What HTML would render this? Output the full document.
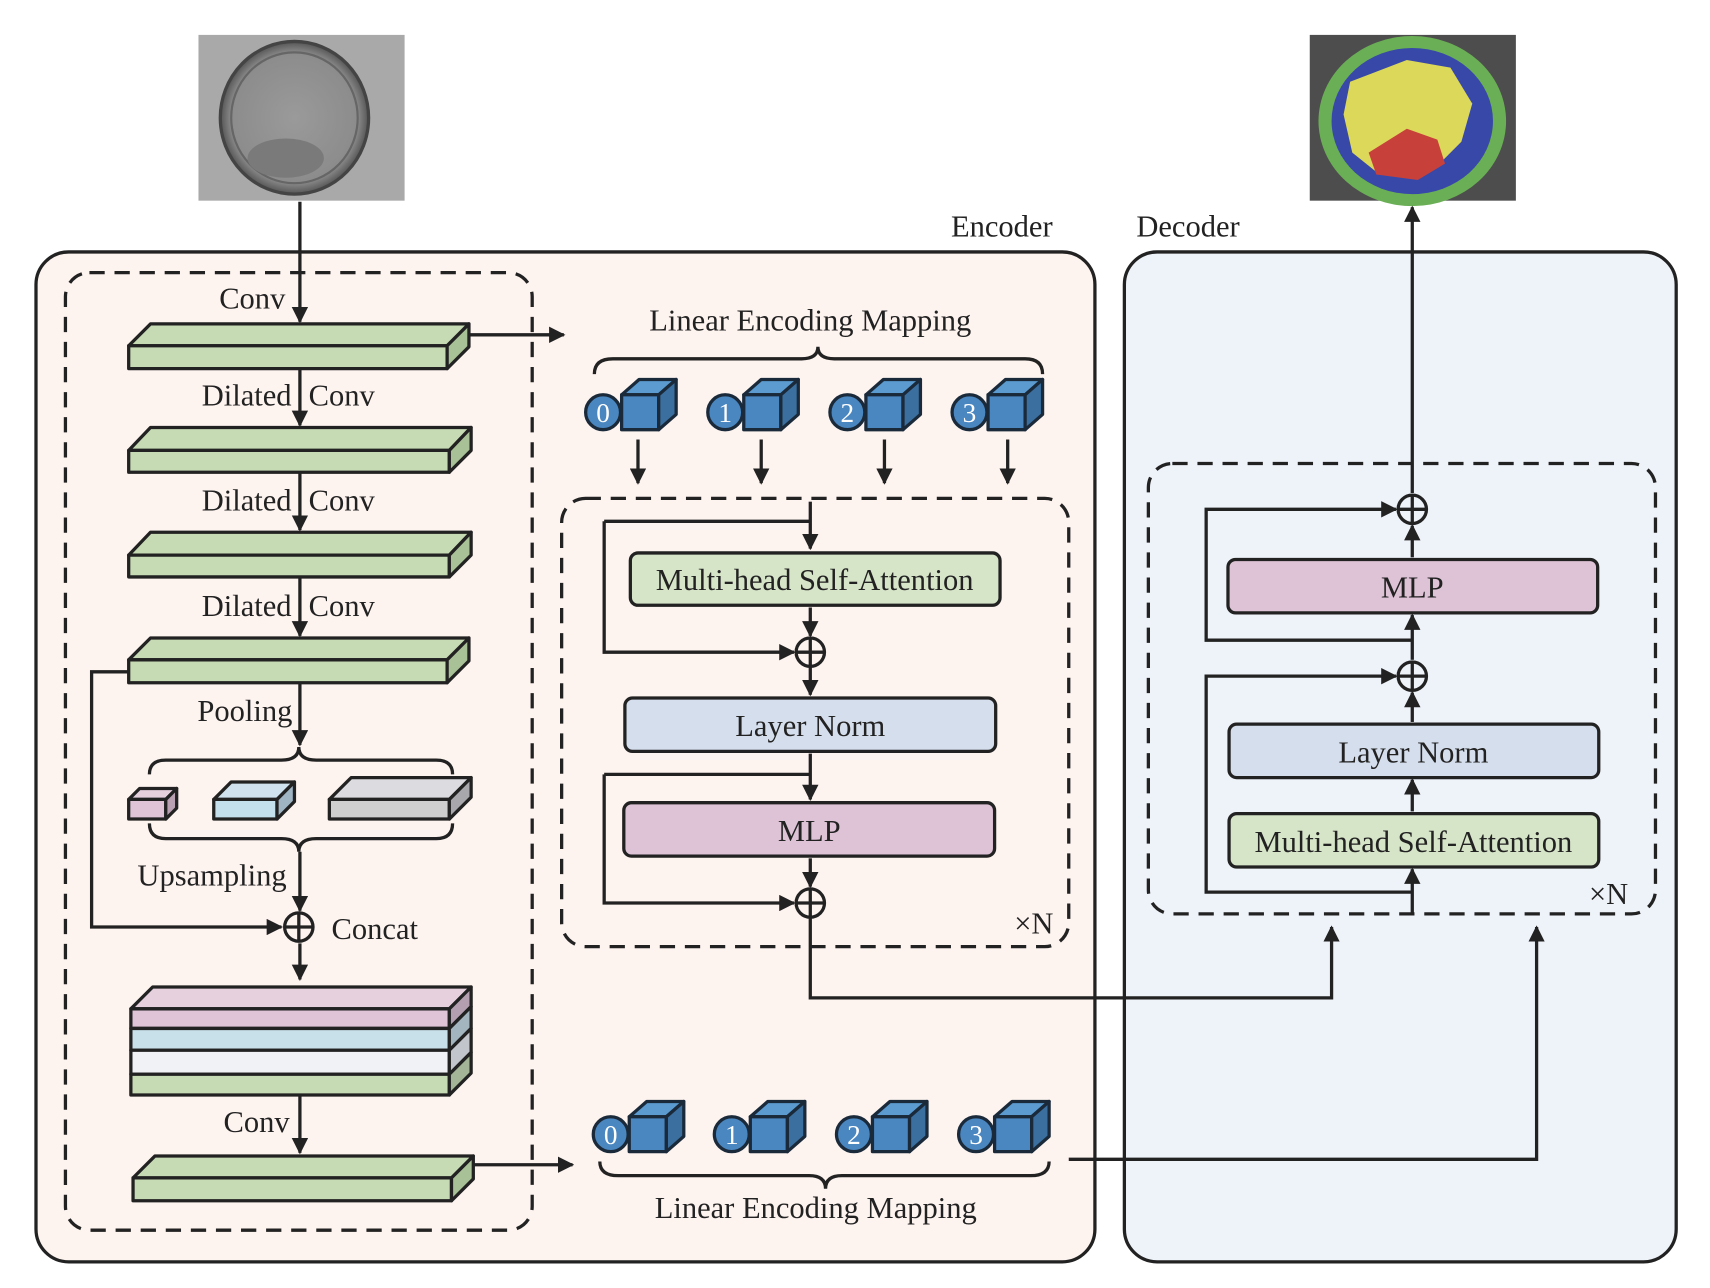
<!DOCTYPE html>
<html><head><meta charset="utf-8"><style>
html,body{margin:0;padding:0;background:#fff;width:1710px;height:1288px;overflow:hidden}
svg{display:block}
text{font-family:"Liberation Serif",serif;fill:#222}
</style></head><body>
<svg width="1710" height="1288" viewBox="0 0 1568 1181" preserveAspectRatio="none" xmlns="http://www.w3.org/2000/svg">
<defs>
<marker id="ah" viewBox="0 0 10 10" refX="9" refY="5" markerWidth="5" markerHeight="5" orient="auto-start-reverse"><path d="M0,0 L10,5 L0,10 z" fill="#222"/></marker>
<radialGradient id="cell" cx="50%" cy="50%" r="50%"><stop offset="0" stop-color="#9a9a9a"/><stop offset="0.85" stop-color="#8c8c8c"/><stop offset="1" stop-color="#555"/></radialGradient>
</defs>
<!-- input image -->
<rect x="182" y="32" width="189" height="152" fill="#a9a9a9"/>
<ellipse cx="270" cy="108" rx="68" ry="70" fill="url(#cell)" stroke="#444" stroke-width="3"/>
<ellipse cx="270" cy="108" rx="58" ry="60" fill="none" stroke="#666" stroke-width="2"/>
<ellipse cx="262" cy="145" rx="35" ry="18" fill="#7a7a7a"/>
<!-- output image -->
<rect x="1201" y="32" width="189" height="152" fill="#4d4d4d"/>
<ellipse cx="1295" cy="111" rx="86" ry="78" fill="#6aaf55"/>
<ellipse cx="1295" cy="111" rx="74" ry="67" fill="#3848a8"/>
<path d="M1238,75 L1290,55 L1330,62 L1350,95 L1340,130 L1320,150 L1265,160 L1240,140 L1232,105 z" fill="#dcd85a"/>
<path d="M1255,140 L1290,118 L1318,128 L1325,150 L1300,165 L1262,160 z" fill="#c8403a"/>
<!-- encoder / decoder boxes -->
<rect x="33" y="231" width="971" height="926" rx="30" fill="#fdf3ef" stroke="#222" stroke-width="3"/>
<rect x="1031" y="231" width="506" height="926" rx="30" fill="#eef3fa" stroke="#222" stroke-width="3"/>
<text x="872" y="217" font-size="28">Encoder</text>
<text x="1042" y="217" font-size="28">Decoder</text>
<!-- dashed boxes -->
<g fill="none" stroke="#222" stroke-width="3" stroke-dasharray="14,9">
<rect x="60" y="250" width="428" height="878" rx="22"/>
<rect x="515" y="457" width="465" height="411" rx="22"/>
<rect x="1053" y="425" width="465" height="413" rx="22"/>
</g>
<!-- slabs -->
<g stroke="#222" stroke-width="3" stroke-linejoin="round">
<g fill="#c6dab4">
<path d="M118,317 L138,297 L430,297 L410,317 z"/><rect x="118" y="317" width="292" height="21"/><path d="M410,317 L430,297 L430,318 L410,338 z" fill="#a9c196"/>
<path d="M118,413 L138,392 L432,392 L412,413 z"/><rect x="118" y="413" width="294" height="20"/><path d="M412,413 L432,392 L432,413 L412,433 z" fill="#a9c196"/>
<path d="M118,509 L138,488 L432,488 L412,509 z"/><rect x="118" y="509" width="294" height="20"/><path d="M412,509 L432,488 L432,509 L412,529 z" fill="#a9c196"/>
<path d="M118,605 L138,585 L430,585 L410,605 z"/><rect x="118" y="605" width="292" height="21"/><path d="M410,605 L430,585 L430,606 L410,626 z" fill="#a9c196"/>
<path d="M122,1080 L142,1060 L434,1060 L414,1080 z"/><rect x="122" y="1080" width="292" height="21"/><path d="M414,1080 L434,1060 L434,1081 L414,1101 z" fill="#a9c196"/>
</g>
<path d="M118,733 L128,723 L162,723 L152,733 z" fill="#e6d0de"/><rect x="118" y="733" width="34" height="18" fill="#dfc3d6"/><path d="M152,733 L162,723 L162,741 L152,751 z" fill="#b9a0b3"/>
<path d="M196,733 L212,717 L270,717 L254,733 z" fill="#cfe2ee"/><rect x="196" y="733" width="58" height="18" fill="#c4e0ec"/><path d="M254,733 L270,717 L270,735 L254,751 z" fill="#9fb5c4"/>
<path d="M302,733 L322,713 L432,713 L412,733 z" fill="#dcdce0"/><rect x="302" y="733" width="110" height="18" fill="#cfcfcf"/><path d="M412,733 L432,713 L432,731 L412,751 z" fill="#a8a8ac"/>
<path d="M120,925 L140,905 L432,905 L412,925 z" fill="#e6d0de"/>
<rect x="120" y="925" width="292" height="18" fill="#dfc3d6"/>
<rect x="120" y="943" width="292" height="20" fill="#c8e0ea"/>
<rect x="120" y="963" width="292" height="22" fill="#f1f2f6"/>
<rect x="120" y="985" width="292" height="19" fill="#c6dab4"/>
<path d="M412,925 L432,905 L432,923 L412,943 z" fill="#b39fb0"/>
<path d="M412,943 L432,923 L432,943 L412,963 z" fill="#a3b5bf"/>
<path d="M412,963 L432,943 L432,965 L412,985 z" fill="#c2c6cc"/>
<path d="M412,985 L432,965 L432,984 L412,1004 z" fill="#a3b596"/>
</g>
<!-- braces -->
<g fill="none" stroke="#222" stroke-width="3">
<path d="M137,710 Q137,697 152,697 L258,697 Q274,697 274,685 Q274,697 290,697 L400,697 Q415,697 415,710"/>
<path d="M137,755 Q137,769 152,769 L258,769 Q274,769 274,781 Q274,769 290,769 L400,769 Q415,769 415,755"/>
<path d="M545,343 Q545,329 562,329 L735,329 Q750,329 750,318 Q750,329 765,329 L940,329 Q956,329 956,343"/>
<path d="M550,1065 Q550,1078 567,1078 L742,1078 Q757,1078 757,1090 Q757,1078 772,1078 L945,1078 Q962,1078 962,1065"/>
</g>
<!-- arrows -->
<g fill="none" stroke="#222" stroke-width="3" marker-end="url(#ah)">
<path d="M275,185 L275,295"/>
<path d="M275,339 L275,390"/>
<path d="M275,434 L275,486"/>
<path d="M275,530 L275,583"/>
<path d="M275,627 L275,683"/>
<path d="M275,781 L275,835"/>
<path d="M275,865 L275,898"/>
<path d="M275,1005 L275,1057"/>
<path d="M118,616 L84,616 L84,850 L258,850"/>
<path d="M430,307 L517,307"/>
<path d="M434,1068 L525,1068"/>
<path d="M585,403 L585,443"/><path d="M698,403 L698,443"/><path d="M811,403 L811,443"/><path d="M924,403 L924,443"/>
<path d="M743,460 L743,503"/>
<path d="M554,478 L554,598 L728,598"/>
<path d="M743,557 L743,583"/>
<path d="M743,611 L743,637"/>
<path d="M743,691 L743,733"/>
<path d="M554,710 L554,828 L728,828"/>
<path d="M743,787 L743,813"/>
<path d="M743,841 L743,915 L1221,915 L1221,850"/>
<path d="M980,1063 L1409,1063 L1409,850"/>
<path d="M1295,838 L1295,797"/>
<path d="M1295,744 L1295,715"/>
<path d="M1295,662 L1295,635"/>
<path d="M1295,605 L1295,564"/>
<path d="M1295,511 L1295,482"/>
<path d="M1295,452 L1295,190"/>
<path d="M1295,818 L1106,818 L1106,620 L1280,620"/>
<path d="M1295,587 L1106,587 L1106,467 L1280,467"/>
</g>
<path d="M554,478 L743,478 M554,710 L743,710" stroke="#222" stroke-width="3"/>
<!-- plus circles -->
<g fill="none" stroke="#222" stroke-width="3">
<circle cx="274" cy="850" r="13"/><path d="M261,850 H287 M274,837 V863"/>
<circle cx="743" cy="598" r="13"/><path d="M730,598 H756 M743,585 V611"/>
<circle cx="743" cy="828" r="13"/><path d="M730,828 H756 M743,815 V841"/>
<circle cx="1295" cy="467" r="13"/><path d="M1282,467 H1308 M1295,454 V480"/>
<circle cx="1295" cy="620" r="13"/><path d="M1282,620 H1308 M1295,607 V633"/>
</g>
<!-- blocks -->
<g stroke="#222" stroke-width="3">
<rect x="578" y="507" width="339" height="48" rx="7" fill="#d6e4c8"/>
<rect x="573" y="640" width="340" height="49" rx="7" fill="#d5deec"/>
<rect x="572" y="736" width="340" height="49" rx="7" fill="#dec3d6"/>
<rect x="1126" y="513" width="339" height="49" rx="7" fill="#dec3d6"/>
<rect x="1127" y="664" width="339" height="49" rx="7" fill="#d5deec"/>
<rect x="1127" y="746" width="339" height="49" rx="7" fill="#d6e4c8"/>
</g>
<g font-size="28" text-anchor="middle">
<text x="747" y="541">Multi-head Self-Attention</text>
<text x="743" y="675">Layer Norm</text>
<text x="742" y="771">MLP</text>
<text x="1295" y="548">MLP</text>
<text x="1296" y="699">Layer Norm</text>
<text x="1296" y="781">Multi-head Self-Attention</text>
<text x="743" y="303">Linear Encoding Mapping</text>
<text x="748" y="1117">Linear Encoding Mapping</text>
</g>
<g font-size="28">
<text x="201" y="283">Conv</text>
<text x="185" y="372">Dilated</text><text x="283" y="372">Conv</text>
<text x="185" y="468">Dilated</text><text x="283" y="468">Conv</text>
<text x="185" y="565">Dilated</text><text x="283" y="565">Conv</text>
<text x="181" y="661">Pooling</text>
<text x="126" y="812">Upsampling</text>
<text x="304" y="861">Concat</text>
<text x="205" y="1038">Conv</text>
<text x="930" y="856">×N</text>
<text x="1457" y="829">×N</text>
</g>
<!-- cubes -->
<g stroke="#1a2a3a" stroke-width="3" stroke-linejoin="round">
<g transform="translate(553,378)"><path d="M17,-16 L33,-30 L67,-30 L51,-16 z" fill="#5b9bd0"/><rect x="17" y="-16" width="34" height="32" fill="#4a86c0"/><path d="M51,-16 L67,-30 L67,2 L51,16 z" fill="#3b6f9f"/><circle r="16" fill="#4a86c0"/></g>
<g transform="translate(665,378)"><path d="M17,-16 L33,-30 L67,-30 L51,-16 z" fill="#5b9bd0"/><rect x="17" y="-16" width="34" height="32" fill="#4a86c0"/><path d="M51,-16 L67,-30 L67,2 L51,16 z" fill="#3b6f9f"/><circle r="16" fill="#4a86c0"/></g>
<g transform="translate(777,378)"><path d="M17,-16 L33,-30 L67,-30 L51,-16 z" fill="#5b9bd0"/><rect x="17" y="-16" width="34" height="32" fill="#4a86c0"/><path d="M51,-16 L67,-30 L67,2 L51,16 z" fill="#3b6f9f"/><circle r="16" fill="#4a86c0"/></g>
<g transform="translate(889,378)"><path d="M17,-16 L33,-30 L67,-30 L51,-16 z" fill="#5b9bd0"/><rect x="17" y="-16" width="34" height="32" fill="#4a86c0"/><path d="M51,-16 L67,-30 L67,2 L51,16 z" fill="#3b6f9f"/><circle r="16" fill="#4a86c0"/></g>
<g transform="translate(560,1040)"><path d="M17,-16 L33,-30 L67,-30 L51,-16 z" fill="#5b9bd0"/><rect x="17" y="-16" width="34" height="32" fill="#4a86c0"/><path d="M51,-16 L67,-30 L67,2 L51,16 z" fill="#3b6f9f"/><circle r="16" fill="#4a86c0"/></g>
<g transform="translate(671,1040)"><path d="M17,-16 L33,-30 L67,-30 L51,-16 z" fill="#5b9bd0"/><rect x="17" y="-16" width="34" height="32" fill="#4a86c0"/><path d="M51,-16 L67,-30 L67,2 L51,16 z" fill="#3b6f9f"/><circle r="16" fill="#4a86c0"/></g>
<g transform="translate(783,1040)"><path d="M17,-16 L33,-30 L67,-30 L51,-16 z" fill="#5b9bd0"/><rect x="17" y="-16" width="34" height="32" fill="#4a86c0"/><path d="M51,-16 L67,-30 L67,2 L51,16 z" fill="#3b6f9f"/><circle r="16" fill="#4a86c0"/></g>
<g transform="translate(895,1040)"><path d="M17,-16 L33,-30 L67,-30 L51,-16 z" fill="#5b9bd0"/><rect x="17" y="-16" width="34" height="32" fill="#4a86c0"/><path d="M51,-16 L67,-30 L67,2 L51,16 z" fill="#3b6f9f"/><circle r="16" fill="#4a86c0"/></g>
</g>
<g font-size="25" text-anchor="middle">
<text x="553" y="387" style="fill:#fff">0</text><text x="665" y="387" style="fill:#fff">1</text><text x="777" y="387" style="fill:#fff">2</text><text x="889" y="387" style="fill:#fff">3</text>
<text x="560" y="1049" style="fill:#fff">0</text><text x="671" y="1049" style="fill:#fff">1</text><text x="783" y="1049" style="fill:#fff">2</text><text x="895" y="1049" style="fill:#fff">3</text>
</g>
</svg>
</body></html>
